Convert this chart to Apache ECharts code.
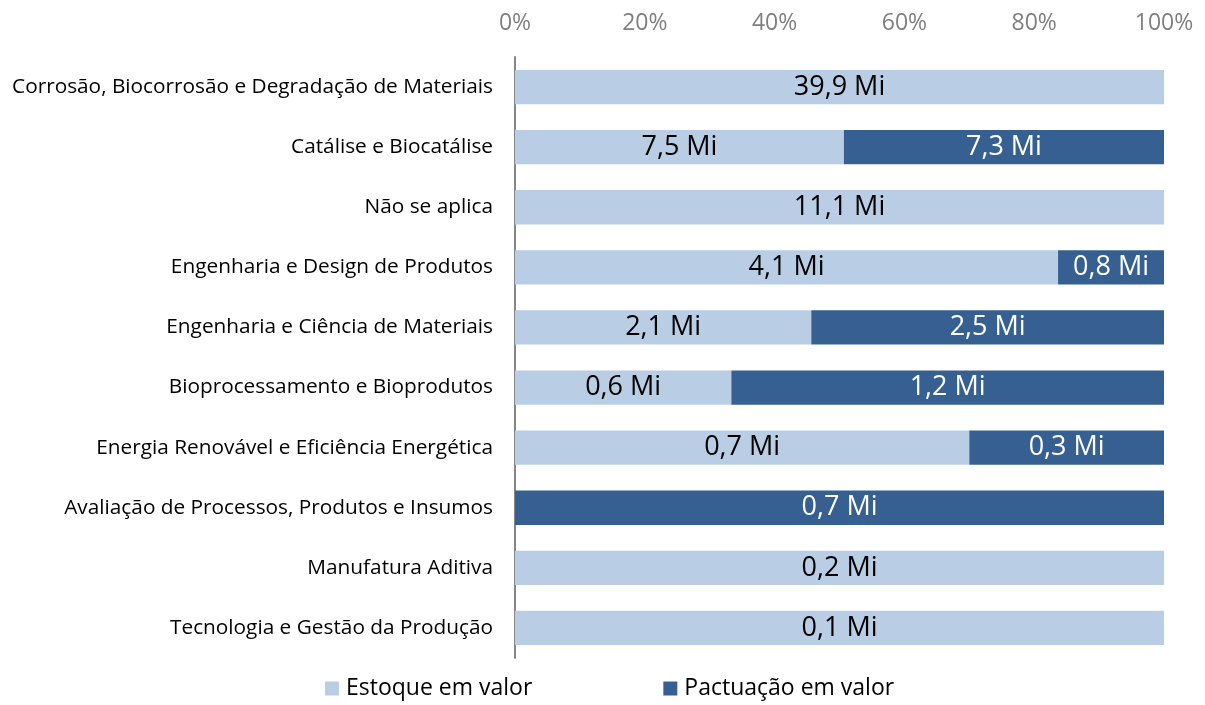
<!DOCTYPE html>
<html>
<head>
<meta charset="utf-8">
<script src="https://cdn.jsdelivr.net/npm/echarts@6/dist/echarts.min.js"></script>
<style>
  html, body { margin: 0; padding: 0; background: #fff; }
  #chart { width: 1205px; height: 705px; }
</style>
</head>
<body>
<div id="chart"></div>
<script>
// categories, top to bottom
const categories = [
  'Corrosão, Biocorrosão e Degradação de Materiais',
  'Catálise e Biocatálise',
  'Não se aplica',
  'Engenharia e Design de Produtos',
  'Engenharia e Ciência de Materiais',
  'Bioprocessamento e Bioprodutos',
  'Energia Renovável e Eficiência Energética',
  'Avaliação de Processos, Produtos e Insumos',
  'Manufatura Aditiva',
  'Tecnologia e Gestão da Produção'
]
// values in Mi
const estoque = [39.9, 7.5, 11.1, 4.1, 2.1, 0.6, 0.7, 0, 0.2, 0.1]
const pactuacao = [0, 7.3, 0, 0.8, 2.5, 1.2, 0.3, 0.7, 0, 0]
const seriesNames = ['Estoque em valor', 'Pactuação em valor']
const tickLabels = ['0%', '20%', '40%', '60%', '80%', '100%']

const FONT = 'Open Sans'

function share(arr, i) {
  const total = estoque[i] + pactuacao[i]
  return total ? arr[i] / total * 100 : 0
}

function buildData(arr) {
  return arr.map((v, i) => ({ value: share(arr, i), raw: v }))
}

function labelFmt(p) {
  if (!p.data.raw) return ''
  return p.data.raw.toFixed(1).replace('.', ',') + ' Mi'
}

const chart = echarts.init(document.getElementById('chart'))
chart.setOption({
  animation: false,
  textStyle: { fontFamily: FONT },
  grid: {
    left: 515,
    right: 41,
    top: 57,
    bottom: 47
  },
  legend: {
    bottom: 0,
    left: 320,
    itemWidth: 14,
    itemHeight: 14,
    itemGap: 131,
    icon: 'rect',
    textStyle: { fontFamily: FONT, fontSize: 23, color: '#000', padding: [0, 0, 0, 2] },
    data: seriesNames
  },
  xAxis: {
    type: 'value',
    position: 'top',
    min: 0,
    max: 100,
    interval: 20,
    axisLine: { show: false },
    axisTick: { show: false },
    splitLine: { show: false },
    axisLabel: {
      fontFamily: FONT,
      fontSize: 23,
      color: '#7f7f7f',
      margin: 22,
      formatter: (v) => tickLabels[v / 20]
    }
  },
  yAxis: {
    type: 'category',
    inverse: true,
    data: categories,
    axisLine: { show: true, lineStyle: { color: '#868686', width: 2 } },
    axisTick: { show: false },
    axisLabel: {
      fontFamily: FONT,
      fontSize: 20.8,
      color: '#000',
      margin: 22
    }
  },
  series: [
    {
      name: seriesNames[0],
      type: 'bar',
      stack: 'total',
      barWidth: '57%',
      itemStyle: { color: '#b9cde5' },
      label: {
        show: true,
        position: 'inside',
        fontFamily: FONT,
        fontSize: 27,
        color: '#000',
        formatter: labelFmt
      },
      data: buildData(estoque)
    },
    {
      name: seriesNames[1],
      type: 'bar',
      stack: 'total',
      barWidth: '57%',
      itemStyle: { color: '#376092' },
      label: {
        show: true,
        position: 'inside',
        fontFamily: FONT,
        fontSize: 27,
        color: '#fff',
        formatter: labelFmt
      },
      data: buildData(pactuacao)
    }
  ]
})
</script>
</body>
</html>
